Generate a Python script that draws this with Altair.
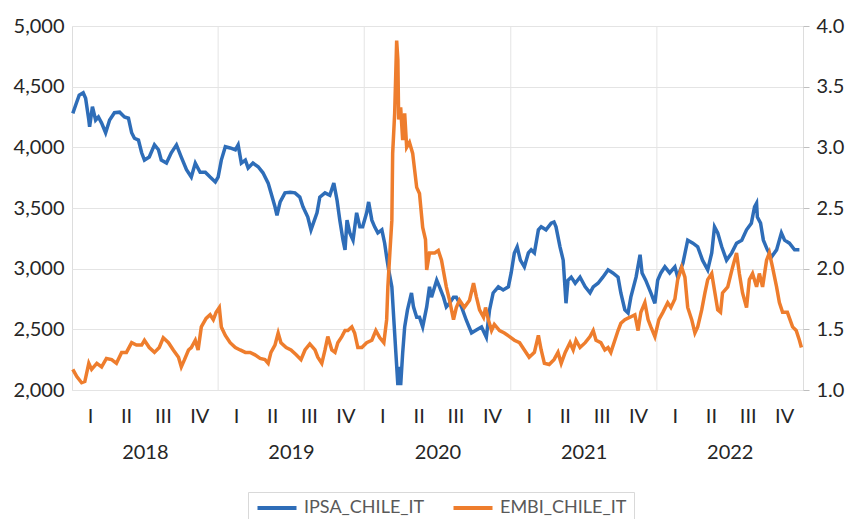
import altair as alt
import pandas as pd

# ---------------- data ----------------
series_names = ["IPSA_CHILE_IT", "EMBI_CHILE_IT"]
series_colors = ["#2E6DB8", "#EE7D2D"]

ipsa_dates = [
    "2018-01-03", "2018-01-12", "2018-01-19", "2018-01-29", "2018-02-04", "2018-02-12", "2018-02-14",
    "2018-02-21", "2018-03-01", "2018-03-08", "2018-03-16", "2018-03-26", "2018-04-05", "2018-04-17",
    "2018-04-30", "2018-05-12", "2018-05-22", "2018-05-30", "2018-06-06", "2018-06-16", "2018-06-24",
    "2018-07-01", "2018-07-13", "2018-07-26", "2018-08-05", "2018-08-12", "2018-08-25", "2018-09-06",
    "2018-09-19", "2018-10-01", "2018-10-14", "2018-10-26", "2018-11-05", "2018-11-17", "2018-11-30",
    "2018-12-12", "2018-12-25", "2019-01-01", "2019-01-09", "2019-01-19", "2019-01-31", "2019-02-13",
    "2019-02-20", "2019-02-28", "2019-03-10", "2019-03-17", "2019-03-29", "2019-04-11", "2019-04-23",
    "2019-05-06", "2019-05-13", "2019-05-23", "2019-05-28", "2019-06-05", "2019-06-17", "2019-06-30",
    "2019-07-12", "2019-07-24", "2019-08-01", "2019-08-13", "2019-08-21", "2019-09-05", "2019-09-12",
    "2019-09-25", "2019-10-07", "2019-10-17", "2019-10-25", "2019-11-01", "2019-11-09", "2019-11-14",
    "2019-11-19", "2019-11-26", "2019-12-04", "2019-12-13", "2019-12-21", "2019-12-28", "2020-01-07",
    "2020-01-12", "2020-01-20", "2020-01-27", "2020-02-04", "2020-02-14", "2020-02-21", "2020-02-26",
    "2020-03-02", "2020-03-10", "2020-03-15", "2020-03-20", "2020-03-25", "2020-03-27", "2020-04-01",
    "2020-04-06", "2020-04-11", "2020-04-18", "2020-04-28", "2020-05-03", "2020-05-11", "2020-05-18",
    "2020-05-26", "2020-06-05", "2020-06-12", "2020-06-17", "2020-06-30", "2020-07-07", "2020-07-17",
    "2020-07-24", "2020-08-01", "2020-08-11", "2020-08-18", "2020-08-31", "2020-09-12", "2020-09-25",
    "2020-10-07", "2020-10-20", "2020-11-01", "2020-11-09", "2020-11-18", "2020-12-01", "2020-12-13",
    "2020-12-26", "2021-01-02", "2021-01-10", "2021-01-17", "2021-01-25", "2021-02-04", "2021-02-14",
    "2021-02-21", "2021-03-01", "2021-03-11", "2021-03-18", "2021-03-30", "2021-04-12", "2021-04-19",
    "2021-04-24", "2021-05-04", "2021-05-12", "2021-05-19", "2021-05-24", "2021-06-01", "2021-06-11",
    "2021-06-23", "2021-07-06", "2021-07-18", "2021-07-26", "2021-08-07", "2021-08-19", "2021-09-01",
    "2021-09-13", "2021-09-26", "2021-10-03", "2021-10-13", "2021-10-21", "2021-10-28", "2021-11-10",
    "2021-11-20", "2021-11-25", "2021-12-04", "2021-12-17", "2021-12-27", "2022-01-03", "2022-01-11",
    "2022-01-21", "2022-02-02", "2022-02-15", "2022-02-22", "2022-03-07", "2022-03-19", "2022-04-01",
    "2022-04-13", "2022-04-25", "2022-05-08", "2022-05-18", "2022-05-25", "2022-06-02", "2022-06-12",
    "2022-06-24", "2022-07-07", "2022-07-19", "2022-08-01", "2022-08-13", "2022-08-25", "2022-09-02",
    "2022-09-07", "2022-09-09", "2022-09-17", "2022-09-24", "2022-10-04", "2022-10-14", "2022-10-27",
    "2022-11-08", "2022-11-16", "2022-11-28", "2022-12-11", "2022-12-23",
]
ipsa_values = [
    4280, 4365, 4430, 4450, 4405, 4225, 4170,
    4335, 4225, 4250, 4200, 4120, 4225, 4285,
    4290, 4250, 4240, 4120, 4075, 4060, 3955,
    3895, 3920, 4020, 3980, 3895, 3870, 3955,
    4020, 3920, 3815, 3755, 3870, 3795, 3795,
    3755, 3715, 3755, 3895, 4005, 3995, 3980,
    4020, 3870, 3895, 3830, 3870, 3840, 3790,
    3705, 3625, 3510, 3440, 3550, 3625, 3630,
    3625, 3590, 3510, 3425, 3320, 3460, 3590,
    3625, 3605, 3705, 3565, 3400, 3235, 3155,
    3400, 3295, 3235, 3460, 3345, 3345, 3460,
    3550, 3400, 3345, 3295, 3320, 3210, 3095,
    2990, 2850, 2575, 2305, 2040, 2190, 2040,
    2305, 2520, 2660, 2800, 2685, 2600, 2600,
    2520, 2685, 2850, 2765, 2905, 2850, 2765,
    2685, 2715, 2765, 2765, 2685, 2575, 2470,
    2495, 2520, 2435, 2660, 2800, 2850, 2825,
    2850, 2965, 3130, 3180, 3070, 3015, 3130,
    3155, 3130, 3320, 3345, 3320, 3375, 3385,
    3345, 3180, 3070, 2715, 2905, 2930, 2880,
    2930, 2850, 2800, 2850, 2880, 2930, 2990,
    2965, 2930, 2800, 2660, 2635, 2765, 2930,
    3115, 2965, 2905, 2800, 2715, 2905, 2965,
    3015, 2965, 3015, 2930, 3045, 3235, 3210,
    3180, 3070, 2990, 3130, 3345, 3295, 3180,
    3070, 3130, 3210, 3235, 3320, 3375, 3510,
    3540, 3425, 3375, 3235, 3155, 3095, 3155,
    3295, 3235, 3210, 3155, 3155,
]

embi_dates = [
    "2018-01-03", "2018-01-13", "2018-01-25", "2018-02-02", "2018-02-12", "2018-02-19", "2018-03-04",
    "2018-03-16", "2018-03-28", "2018-04-10", "2018-04-22", "2018-05-05", "2018-05-17", "2018-05-30",
    "2018-06-11", "2018-06-24", "2018-07-01", "2018-07-13", "2018-07-26", "2018-08-07", "2018-08-17",
    "2018-08-30", "2018-09-11", "2018-09-24", "2018-10-01", "2018-10-09", "2018-10-19", "2018-10-26",
    "2018-11-05", "2018-11-12", "2018-11-20", "2018-12-02", "2018-12-12", "2018-12-20", "2018-12-27",
    "2019-01-04", "2019-01-09", "2019-01-19", "2019-01-31", "2019-02-13", "2019-02-25", "2019-03-10",
    "2019-03-22", "2019-04-03", "2019-04-16", "2019-04-28", "2019-05-06", "2019-05-13", "2019-05-23",
    "2019-05-31", "2019-06-07", "2019-06-20", "2019-07-02", "2019-07-15", "2019-07-27", "2019-08-06",
    "2019-08-18", "2019-08-31", "2019-09-07", "2019-09-17", "2019-09-25", "2019-10-02", "2019-10-12",
    "2019-10-20", "2019-10-27", "2019-11-06", "2019-11-14", "2019-11-21", "2019-12-01", "2019-12-08",
    "2019-12-16", "2019-12-26", "2020-01-07", "2020-01-20", "2020-01-30", "2020-02-09", "2020-02-19",
    "2020-02-26", "2020-02-29", "2020-03-05", "2020-03-10", "2020-03-12", "2020-03-17", "2020-03-20",
    "2020-03-22", "2020-03-25", "2020-03-27", "2020-04-01", "2020-04-06", "2020-04-11", "2020-04-16",
    "2020-04-23", "2020-05-01", "2020-05-06", "2020-05-11", "2020-05-18", "2020-05-26", "2020-06-02",
    "2020-06-05", "2020-06-12", "2020-06-20", "2020-06-25", "2020-07-04", "2020-07-12", "2020-07-24",
    "2020-08-01", "2020-08-11", "2020-08-18", "2020-08-26", "2020-09-07", "2020-09-20", "2020-09-30",
    "2020-10-07", "2020-10-15", "2020-10-25", "2020-10-30", "2020-11-06", "2020-11-14", "2020-11-21",
    "2020-12-04", "2020-12-16", "2020-12-29", "2021-01-10", "2021-01-23", "2021-02-04", "2021-02-16",
    "2021-03-01", "2021-03-11", "2021-03-18", "2021-03-26", "2021-04-07", "2021-04-19", "2021-04-29",
    "2021-05-07", "2021-05-17", "2021-05-29", "2021-06-06", "2021-06-13", "2021-06-23", "2021-07-06",
    "2021-07-18", "2021-07-26", "2021-08-02", "2021-08-14", "2021-08-24", "2021-09-01", "2021-09-08",
    "2021-09-18", "2021-09-26", "2021-10-03", "2021-10-13", "2021-10-26", "2021-11-07", "2021-11-15",
    "2021-11-22", "2021-12-02", "2021-12-10", "2021-12-17", "2021-12-27", "2022-01-06", "2022-01-16",
    "2022-01-28", "2022-02-05", "2022-02-15", "2022-02-22", "2022-03-04", "2022-03-12", "2022-03-19",
    "2022-03-29", "2022-04-06", "2022-04-13", "2022-04-23", "2022-05-01", "2022-05-08", "2022-05-18",
    "2022-05-25", "2022-06-02", "2022-06-09", "2022-06-14", "2022-06-27", "2022-07-09", "2022-07-19",
    "2022-07-26", "2022-08-03", "2022-08-13", "2022-08-20", "2022-08-28", "2022-09-07", "2022-09-14",
    "2022-09-22", "2022-10-02", "2022-10-09", "2022-10-17", "2022-10-27", "2022-11-03", "2022-11-11",
    "2022-11-23", "2022-12-06", "2022-12-15", "2022-12-23", "2022-12-28",
]
embi_values = [
    1.17, 1.11, 1.06, 1.07, 1.22, 1.17, 1.22,
    1.19, 1.26, 1.25, 1.22, 1.31, 1.31, 1.39,
    1.37, 1.37, 1.41, 1.35, 1.31, 1.35, 1.43,
    1.39, 1.33, 1.27, 1.19, 1.25, 1.33, 1.35,
    1.41, 1.33, 1.52, 1.59, 1.62, 1.58, 1.64,
    1.68, 1.52, 1.45, 1.39, 1.35, 1.33, 1.31,
    1.31, 1.29, 1.26, 1.25, 1.22, 1.31, 1.37,
    1.47, 1.39, 1.35, 1.33, 1.29, 1.25, 1.33,
    1.38, 1.33, 1.27, 1.22, 1.33, 1.44, 1.33,
    1.31, 1.39, 1.44, 1.49, 1.49, 1.52, 1.47,
    1.35, 1.35, 1.39, 1.41, 1.49, 1.43, 1.39,
    1.58, 1.85, 2.13, 2.40, 2.95, 3.28, 3.64,
    3.88, 3.72, 3.23, 3.33, 3.06, 3.28, 3.00,
    3.04, 2.95, 2.81, 2.67, 2.62, 2.34, 2.24,
    1.99, 2.13, 2.13, 2.13, 2.15, 2.07, 1.85,
    1.74, 1.58, 1.68, 1.74, 1.68, 1.74, 1.88,
    1.77, 1.66, 1.60, 1.68, 1.58, 1.49, 1.54,
    1.49, 1.47, 1.44, 1.41, 1.39, 1.33, 1.27,
    1.31, 1.45, 1.33, 1.22, 1.21, 1.25, 1.31,
    1.22, 1.31, 1.39, 1.33, 1.41, 1.35, 1.39,
    1.44, 1.49, 1.41, 1.39, 1.33, 1.35, 1.31,
    1.41, 1.49, 1.55, 1.58, 1.60, 1.62, 1.49,
    1.64, 1.72, 1.58, 1.52, 1.44, 1.58, 1.64,
    1.72, 1.68, 1.75, 1.91, 2.01, 1.93, 1.68,
    1.58, 1.47, 1.52, 1.66, 1.80, 1.91, 1.96,
    1.82, 1.66, 1.64, 1.80, 1.85, 2.01, 2.13,
    1.96, 1.80, 1.68, 1.91, 1.96, 1.85, 1.96,
    1.85, 2.07, 2.13, 2.01, 1.85, 1.72, 1.64,
    1.64, 1.52, 1.49, 1.41, 1.35,
]

years = [2018, 2019, 2020, 2021, 2022]
quarter_labels = ["I", "II", "III", "IV"]
quarter_mid_days = [(2, 15), (5, 16), (8, 16), (11, 15)]
left_ticks = [2000, 2500, 3000, 3500, 4000, 4500, 5000]
right_ticks = [1.0, 1.5, 2.0, 2.5, 3.0, 3.5, 4.0]

# ---------------- tables ----------------
ipsa_df = pd.DataFrame({"date": ipsa_dates, "value": ipsa_values, "series": series_names[0]})
embi_df = pd.DataFrame({"date": embi_dates, "value": embi_values, "series": series_names[1]})
year_df = pd.DataFrame({"mid": [f"{y}-07-02" for y in years]})
bound_df = pd.DataFrame({"start": [f"{y}-01-01" for y in years[1:]]})

FONT = "Lato"
TXT = "#262626"
GRID = "#e4e4e4"


def dt(y, m, d):
    return alt.DateTime(year=y, month=m, date=d, utc=True)


x_domain = [dt(years[0], 1, 1), dt(years[-1] + 1, 1, 1)]


def xs():
    return alt.Scale(type="utc", domain=x_domain, nice=False)


quarter_values = [dt(y, m, d) for y in years for (m, d) in quarter_mid_days]
year_values = [dt(y, 7, 2) for y in years]

color_scale = alt.Scale(domain=series_names, range=series_colors)

rules = alt.Chart(bound_df).mark_rule(color=GRID, strokeWidth=1).encode(
    x=alt.X("start:T", scale=xs(), axis=None)
)

ipsa_line = alt.Chart(ipsa_df).mark_line(strokeWidth=3.5).encode(
    x=alt.X(
        "date:T",
        scale=xs(),
        axis=alt.Axis(
            orient="bottom", title=None, values=quarter_values,
            labelExpr=f"{quarter_labels}[floor(utcmonth(datum.value) / 3)]",
            ticks=False, tickSize=0, domain=False, grid=False,
            labelPadding=16, labelFont=FONT, labelFontSize=20, labelColor=TXT,
            labelFlush=False, labelOverlap=False,
        ),
    ),
    y=alt.Y(
        "value:Q",
        scale=alt.Scale(domain=[left_ticks[0], left_ticks[-1]], nice=False, zero=False),
        axis=alt.Axis(
            orient="left", title=None, values=left_ticks, format=",d",
            grid=True, gridColor=GRID, ticks=False, tickSize=0, domain=False,
            labelPadding=8, labelFont=FONT, labelFontSize=20, labelColor=TXT,
        ),
    ),
    color=alt.Color(
        "series:N",
        scale=color_scale,
        legend=alt.Legend(
            orient="none", legendX=176, legendY=466, direction="horizontal",
            title=None, symbolType="M-1,0H5", symbolSize=169, symbolStrokeWidth=4,
            labelFont=FONT, labelFontSize=18, labelColor="#595959", labelOffset=31,
            columnPadding=20, padding=7, strokeColor="#d9d9d9", fillColor="white",
        ),
    ),
)

embi_line = alt.Chart(embi_df).mark_line(strokeWidth=3.5).encode(
    x=alt.X("date:T", scale=xs(), axis=None),
    y=alt.Y(
        "value:Q",
        scale=alt.Scale(domain=[right_ticks[0], right_ticks[-1]], nice=False, zero=False),
        axis=alt.Axis(
            orient="right", title=None, values=right_ticks, format=".1f",
            grid=False, ticks=True, tickSize=6, tickColor="#bfbfbf", domain=False,
            labelPadding=7, labelFont=FONT, labelFontSize=20, labelColor=TXT,
        ),
    ),
    color=alt.Color("series:N", scale=color_scale),
)

year_axis = alt.Chart(year_df).mark_point(opacity=0).encode(
    x=alt.X(
        "mid:T",
        scale=xs(),
        axis=alt.Axis(
            orient="bottom", title=None, values=year_values,
            labelExpr="'' + utcyear(datum.value)",
            ticks=False, tickSize=0, domain=False, grid=False, offset=50,
            labelPadding=2, labelFont=FONT, labelFontSize=20, labelColor=TXT,
            labelFlush=False, labelOverlap=False,
        ),
    )
)

chart = (
    alt.layer(rules, ipsa_line, embi_line, year_axis)
    .resolve_scale(x="independent", y="independent")
    .properties(
        width=731,
        height=364,
        autosize=alt.AutoSizeParams(type="none"),
        padding={"left": 64, "top": 18, "right": 42, "bottom": 129},
    )
    .configure_view(stroke=None)
    .configure(background="white")
)

chart.save("out.html", embed_options={"renderer": "svg", "actions": False})
